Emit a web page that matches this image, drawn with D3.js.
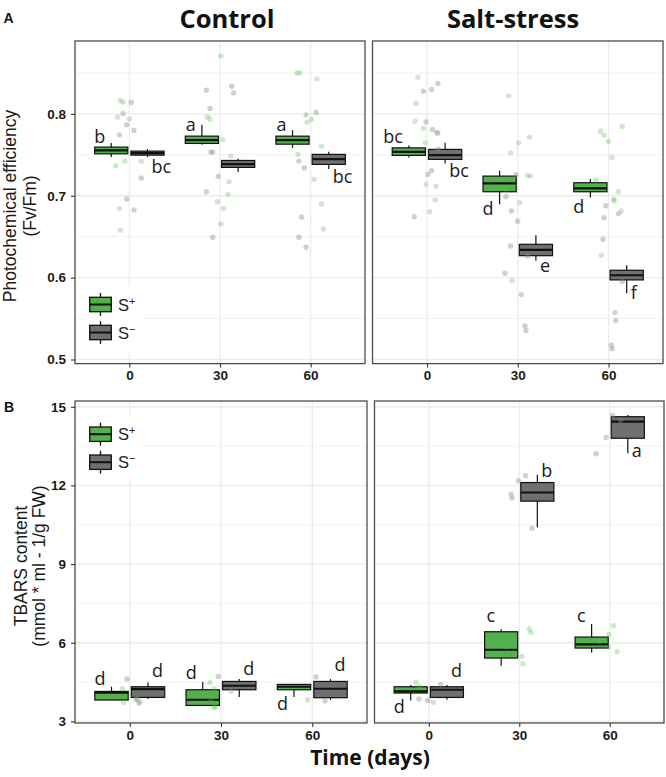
<!DOCTYPE html>
<html>
<head>
<meta charset="utf-8">
<script src="https://cdn.jsdelivr.net/npm/d3@7/dist/d3.min.js"></script>
<style>
  body { margin: 0; background: #fff; }
  svg { display: block; }
</style>
</head>
<body>
<svg id="chart" width="666" height="777"></svg>
<script>
// ---------------- DATA ----------------
const days = [0, 30, 60];
const groups = ["S+", "S-"];
const legendLabels = [["S", "+"], ["S", "−"]];
const panelTitles = ["Control", "Salt-stress"];
const fvTicks = [0.5, 0.6, 0.7, 0.8];
const fvMinorTicks = [0.55, 0.65, 0.75, 0.85];
const tbarsTicks = [3, 6, 9, 12, 15];
const tbarsMinorTicks = [4.5, 7.5, 10.5, 13.5];

// box stats: [day, group, lower whisker, q1, median, q3, upper whisker]
const fvControlBoxes = [
  [0, "S+", 0.7472, 0.7512, 0.7554, 0.7594, 0.7643],
  [0, "S-", 0.7472, 0.7496, 0.7520, 0.7545, 0.7570],
  [30, "S+", 0.7624, 0.7639, 0.7679, 0.7728, 0.7866],
  [30, "S-", 0.7289, 0.7346, 0.7387, 0.7431, 0.7451],
  [60, "S+", 0.7585, 0.7630, 0.7679, 0.7728, 0.7801],
  [60, "S-", 0.7326, 0.7383, 0.7448, 0.7505, 0.7537]
];
const fvSaltBoxes = [
  [0, "S+", 0.7468, 0.7493, 0.7537, 0.7585, 0.7615],
  [0, "S-", 0.7395, 0.7444, 0.7496, 0.7566, 0.7646],
  [30, "S+", 0.6895, 0.7049, 0.7151, 0.7240, 0.7305],
  [30, "S-", 0.6207, 0.6268, 0.6338, 0.6407, 0.6517],
  [60, "S+", 0.6980, 0.7049, 0.7090, 0.7159, 0.7204],
  [60, "S-", 0.5810, 0.5972, 0.6029, 0.6090, 0.6151]
];
const tbarsControlBoxes = [
  [0, "S+", 3.816, 3.816, 4.094, 4.144, 4.323],
  [0, "S-", 3.854, 3.915, 4.235, 4.323, 4.487],
  [30, "S+", 3.610, 3.610, 3.827, 4.208, 4.502],
  [30, "S-", 3.930, 4.208, 4.361, 4.525, 4.616],
  [60, "S+", 3.930, 4.208, 4.323, 4.411, 4.411],
  [60, "S-", 3.827, 3.904, 4.247, 4.525, 4.616]
];
const tbarsSaltBoxes = [
  [0, "S+", 3.800, 4.083, 4.144, 4.323, 4.388],
  [0, "S-", 3.827, 3.915, 4.208, 4.323, 4.388],
  [30, "S+", 5.124, 5.417, 5.734, 6.420, 6.520],
  [30, "S-", 10.41, 11.40, 11.73, 12.11, 12.41],
  [60, "S+", 5.631, 5.798, 5.936, 6.218, 6.713],
  [60, "S-", 13.23, 13.80, 14.43, 14.62, 14.69]
];

// raw observations: [day, group, jitter (fraction of category step), value]
const fvControlPoints = [
  [0,"S+",-0.10,0.8163],[0,"S+",-0.07,0.8143],[0,"S+",-0.13,0.7960],[0,"S+",0.00,0.7939],
  [0,"S+",-0.15,0.7366],[0,"S+",-0.05,0.7423],[0,"S+",0.13,0.7420],[0,"S+",-0.11,0.6846],[0,"S+",-0.10,0.6580],
  [0,"S-",0.02,0.8139],[0,"S-",-0.07,0.8005],[0,"S-",-0.03,0.7866],[0,"S-",-0.11,0.7744],
  [0,"S-",0.05,0.7798],[0,"S-",0.13,0.7216],[0,"S-",-0.03,0.6960],[0,"S-",0.05,0.6826],
  [30,"S+",0.01,0.8707],[30,"S+",-0.14,0.7963],[30,"S+",-0.11,0.7935],[30,"S+",0.03,0.7688],
  [30,"S+",0.12,0.7484],[30,"S+",0.10,0.7170],[30,"S+",0.09,0.7017],[30,"S+",-0.03,0.6927],
  [30,"S+",0.04,0.6846],[30,"S+",0.01,0.6655],
  [30,"S-",-0.15,0.8289],[30,"S-",0.13,0.8338],[30,"S-",0.15,0.8256],[30,"S-",-0.11,0.8066],
  [30,"S-",-0.10,0.7533],[30,"S-",-0.08,0.7533],[30,"S-",-0.02,0.7237],[30,"S-",-0.15,0.7049],[30,"S-",-0.08,0.6493],
  [60,"S+",-0.15,0.8500],[60,"S+",-0.12,0.8500],[60,"S+",0.07,0.8427],[60,"S+",0.01,0.7932],
  [60,"S+",-0.04,0.7899],[60,"S+",0.12,0.7606],[60,"S+",-0.14,0.7505],[60,"S+",0.04,0.7200],
  [60,"S+",0.12,0.6899],[60,"S+",0.14,0.6594],
  [60,"S-",0.06,0.8017],[60,"S-",-0.05,0.7988],[60,"S-",-0.13,0.7423],[60,"S-",-0.07,0.7338],
  [60,"S-",-0.10,0.6737],[60,"S-",-0.13,0.6493],[60,"S-",-0.05,0.6371]
];
const fvSaltPoints = [
  [0,"S+",-0.10,0.8448],[0,"S+",-0.12,0.8127],[0,"S+",-0.13,0.7911],[0,"S+",-0.04,0.7822],
  [0,"S+",0.12,0.7761],[0,"S+",-0.02,0.7646],[0,"S+",-0.01,0.7139],[0,"S+",0.10,0.7118],
  [0,"S+",0.09,0.6948],[0,"S+",0.03,0.6805],
  [0,"S-",-0.04,0.8277],[0,"S-",0.05,0.8298],[0,"S-",0.12,0.8371],[0,"S-",-0.01,0.7902],
  [0,"S-",0.06,0.7810],[0,"S-",0.11,0.7773],[0,"S-",0.12,0.7569],[0,"S-",0.05,0.7305],
  [0,"S-",0.01,0.7261],[0,"S-",-0.14,0.6744],
  [30,"S+",-0.10,0.8220],[30,"S+",0.13,0.7716],[30,"S+",0.01,0.7646],[30,"S+",-0.08,0.7524],
  [30,"S+",0.11,0.7249],[30,"S+",0.14,0.7240],[30,"S+",-0.13,0.7082],[30,"S+",0.02,0.6915],[30,"S+",-0.06,0.5963],
  [30,"S-",-0.02,0.7256],[30,"S-",-0.13,0.6988],[30,"S-",-0.07,0.6813],[30,"S-",0.00,0.6688],
  [30,"S-",-0.08,0.6387],[30,"S-",0.11,0.6265],[30,"S-",-0.14,0.6054],[30,"S-",0.04,0.5793],
  [30,"S-",0.08,0.5411],[30,"S-",0.09,0.5354],
  [60,"S+",-0.09,0.7789],[60,"S+",-0.05,0.7740],[60,"S+",0.15,0.7846],[60,"S+",0.00,0.7663],
  [60,"S+",0.04,0.7468],[60,"S+",-0.14,0.7191],[60,"S+",0.11,0.7049],[60,"S+",0.06,0.6956],
  [60,"S+",0.06,0.6939],[60,"S+",0.14,0.6813],[60,"S+",-0.08,0.6273],
  [60,"S-",-0.03,0.6878],[60,"S-",0.11,0.6780],[60,"S-",-0.05,0.6732],[60,"S-",-0.06,0.6468],
  [60,"S-",0.15,0.5951],[60,"S-",0.07,0.5573],[60,"S-",0.08,0.5476],[60,"S-",0.03,0.5176],[60,"S-",0.04,0.5131]
];
const tbarsControlPoints = [
  [0,"S+",-0.08,4.247],[0,"S+",-0.07,3.724],[0,"S+",0.08,3.877],[0,"S+",0.11,3.751],
  [0,"S-",-0.03,4.616],[0,"S-",0.07,3.839],[0,"S-",0.10,3.700],
  [30,"S+",-0.12,4.487],[30,"S+",-0.08,4.235],[30,"S+",-0.06,3.549],[30,"S+",-0.08,3.549],
  [30,"S+",-0.11,3.865],[30,"S+",0.11,4.144],
  [30,"S-",-0.03,4.716],
  [60,"S+",-0.05,3.827],
  [60,"S-",0.04,4.693],[60,"S-",0.14,3.789]
];
const tbarsSaltPoints = [
  [0,"S+",-0.14,4.487],[0,"S+",-0.10,4.334],[0,"S+",0.05,3.724],
  [0,"S-",-0.11,3.854],[0,"S-",-0.01,3.800],[0,"S-",0.13,4.411],
  [30,"S+",0.11,6.522],[30,"S+",0.13,6.393],[30,"S+",0.03,5.478],[30,"S+",0.04,5.200],[30,"S+",-0.14,5.836],
  [30,"S-",0.07,12.37],[30,"S-",-0.01,12.18],[30,"S-",-0.09,11.67],[30,"S-",-0.08,11.52],[30,"S-",0.14,10.37],
  [60,"S+",0.04,6.649],[60,"S+",-0.01,6.317],[60,"S+",-0.01,5.836],[60,"S+",0.08,5.657],[60,"S+",-0.12,6.050],
  [60,"S-",0.03,14.67],[60,"S-",0.12,14.48],[60,"S-",-0.04,13.83],[60,"S-",-0.15,13.21]
];

// significance letters: [day, group, letter, value at baseline, side]
const fvControlLetters = [
  [0,"S+","b",0.7643,"L"],[0,"S-","bc",0.7277,"R"],[30,"S+","a",0.7789,"L"],
  [60,"S+","a",0.7789,"L"],[60,"S-","bc",0.7155,"R"]
];
const fvSaltLetters = [
  [0,"S+","bc",0.7639,"L"],[0,"S-","bc",0.7224,"R"],[30,"S+","d",0.6765,"L"],
  [30,"S-","e",0.6073,"R"],[60,"S+","d",0.6785,"L"],[60,"S-","f",0.5740,"R"]
];
const tbarsControlLetters = [
  [0,"S+","d",4.372,"L"],[0,"S-","d",4.677,"R"],[30,"S+","d",4.616,"L"],
  [30,"S-","d",4.780,"R"],[60,"S+","d",3.446,"L"],[60,"S-","d",4.906,"R"]
];
const tbarsSaltLetters = [
  [0,"S+","d",3.320,"L"],[0,"S-","d",4.693,"R"],[30,"S+","c",6.790,"L"],
  [30,"S-","b",12.34,"R"],[60,"S+","c",6.810,"L"],[60,"S-","a",13.08,"R"]
];

// ---------------- STYLE ----------------
const fillColor = { "S+": "#53b04d", "S-": "#6f6f6f" };
const pointColor = { "S+": "#5cbf55", "S-": "#8a8a8a" };
const pointOpacity = { "S+": 0.32, "S-": 0.4 };
const gridColor = "#ebebeb";
const titleFont = "'Open Sans', 'DejaVu Sans', sans-serif";
const axisFont = "'Liberation Sans', Arial, sans-serif";

const svg = d3.select("#chart");

function drawPanel(cfg) {
  const g = svg.append("g");
  const x = d3.scalePoint().domain(days).range([cfg.x0, cfg.x1]).padding(0.6);
  const step = x.step();
  const y = d3.scaleLinear().domain(cfg.domain).range([cfg.y1, cfg.y0]);
  const dodge = { "S+": -0.2 * step, "S-": 0.2 * step };
  const bw = 0.366 * step;

  // background + grid
  g.append("rect").attr("x", cfg.x0).attr("y", cfg.y0)
    .attr("width", cfg.x1 - cfg.x0).attr("height", cfg.y1 - cfg.y0).attr("fill", "#fff");
  g.selectAll(".minor").data(cfg.minor).join("line")
    .attr("x1", cfg.x0).attr("x2", cfg.x1).attr("y1", d => y(d)).attr("y2", d => y(d))
    .attr("stroke", "#f2f2f2").attr("stroke-width", 1);
  g.selectAll(".major").data(cfg.ticks).join("line")
    .attr("x1", cfg.x0).attr("x2", cfg.x1).attr("y1", d => y(d)).attr("y2", d => y(d))
    .attr("stroke", gridColor).attr("stroke-width", 1.3);
  g.selectAll(".vgrid").data(days).join("line")
    .attr("x1", d => x(d)).attr("x2", d => x(d)).attr("y1", cfg.y0).attr("y2", cfg.y1)
    .attr("stroke", gridColor).attr("stroke-width", 1.3);

  // legend
  if (cfg.legend) {
    const lg = g.append("g");
    const ky = cfg.legendY;
    lg.append("rect").attr("x", 85).attr("y", ky - 18).attr("width", 58).attr("height", 64).attr("fill", "#fff");
    groups.forEach((grp, i) => {
      const cy = ky + i * 28, cx = 100.5;
      lg.append("line").attr("x1", cx).attr("x2", cx).attr("y1", cy - 11.5).attr("y2", cy + 11.5)
        .attr("stroke", "#111").attr("stroke-width", 1.3);
      lg.append("rect").attr("x", cx - 10.8).attr("y", cy - 7.2).attr("width", 21.6).attr("height", 14.4)
        .attr("fill", fillColor[grp]).attr("stroke", "#111").attr("stroke-width", 1.3);
      lg.append("line").attr("x1", cx - 10.8).attr("x2", cx + 10.8).attr("y1", cy).attr("y2", cy)
        .attr("stroke", "#111").attr("stroke-width", 2);
      const t = lg.append("text").attr("x", 118).attr("y", cy + 6)
        .attr("font-family", axisFont).attr("font-size", 16.5).attr("fill", "#222");
      t.append("tspan").text(legendLabels[i][0]);
      t.append("tspan").attr("font-size", 11).attr("dy", -6).text(legendLabels[i][1]);
    });
  }

  // boxes
  cfg.boxes.forEach(b => {
    const [day, grp, lo, q1, med, q3, hi] = b;
    const cx = x(day) + dodge[grp];
    g.append("line").attr("x1", cx).attr("x2", cx).attr("y1", y(hi)).attr("y2", y(lo))
      .attr("stroke", "#111").attr("stroke-width", 1.2);
    g.append("rect").attr("x", cx - bw / 2).attr("y", y(q3)).attr("width", bw)
      .attr("height", Math.max(y(q1) - y(q3), 0.5))
      .attr("fill", fillColor[grp]).attr("stroke", "#111").attr("stroke-width", 1.2);
    g.append("line").attr("x1", cx - bw / 2).attr("x2", cx + bw / 2).attr("y1", y(med)).attr("y2", y(med))
      .attr("stroke", "#111").attr("stroke-width", 2.2);
  });

  // points
  g.selectAll(".pt").data(cfg.points).join("circle")
    .attr("cx", d => x(d[0]) + d[2] * step)
    .attr("cy", d => y(d[3]))
    .attr("r", 2.7)
    .attr("fill", d => pointColor[d[1]])
    .attr("fill-opacity", d => pointOpacity[d[1]]);

  // letters
  cfg.letters.forEach(l => {
    const [day, grp, txt, val, side] = l;
    const cx = x(day) + dodge[grp];
    g.append("text")
      .attr("x", side === "L" ? cx - 6 : cx + 4)
      .attr("y", y(val))
      .attr("text-anchor", side === "L" ? "end" : "start")
      .attr("font-family", titleFont).attr("font-size", 18).attr("fill", "#1a1a1a")
      .text(txt);
  });

  // border
  g.append("rect").attr("x", cfg.x0).attr("y", cfg.y0)
    .attr("width", cfg.x1 - cfg.x0).attr("height", cfg.y1 - cfg.y0)
    .attr("fill", "none").attr("stroke", "#4d4d4d").attr("stroke-width", 1.3);

  // x axis
  const xa = g.append("g").attr("transform", `translate(0,${cfg.y1})`)
    .call(d3.axisBottom(x).tickSize(4).tickPadding(3));
  xa.select(".domain").remove();
  xa.selectAll("line").attr("stroke", "#333").attr("stroke-width", 1.1);
  xa.selectAll("text").attr("font-family", axisFont).attr("font-weight", "bold")
    .attr("font-size", 13.5).attr("fill", "#1a1a1a");

  // y axis (left panels)
  if (cfg.yAxis) {
    const ya = g.append("g").attr("transform", `translate(${cfg.x0},0)`)
      .call(d3.axisLeft(y).tickValues(cfg.ticks).tickFormat(cfg.fmt).tickSize(4).tickPadding(5));
    ya.select(".domain").remove();
    ya.selectAll("line").attr("stroke", "#333").attr("stroke-width", 1.1);
    ya.selectAll("text").attr("font-family", axisFont).attr("font-weight", "bold")
      .attr("font-size", 13.5).attr("fill", "#1a1a1a");
  }
}

const topY = [41, 363.6], botY = [401, 723];
drawPanel({ x0: 75, x1: 365, y0: topY[0], y1: topY[1], domain: [0.495, 0.889],
  ticks: fvTicks, minor: fvMinorTicks, fmt: d3.format(".1f"),
  boxes: fvControlBoxes, points: fvControlPoints, letters: fvControlLetters,
  yAxis: true, legend: true, legendY: 304.5 });
drawPanel({ x0: 372.5, x1: 663, y0: topY[0], y1: topY[1], domain: [0.495, 0.889],
  ticks: fvTicks, minor: fvMinorTicks, fmt: d3.format(".1f"),
  boxes: fvSaltBoxes, points: fvSaltPoints, letters: fvSaltLetters, yAxis: false });
drawPanel({ x0: 75, x1: 367, y0: botY[0], y1: botY[1], domain: [2.94, 15.22],
  ticks: tbarsTicks, minor: tbarsMinorTicks, fmt: d3.format("d"),
  boxes: tbarsControlBoxes, points: tbarsControlPoints, letters: tbarsControlLetters,
  yAxis: true, legend: true, legendY: 434.2 });
drawPanel({ x0: 374.5, x1: 664, y0: botY[0], y1: botY[1], domain: [2.94, 15.22],
  ticks: tbarsTicks, minor: tbarsMinorTicks, fmt: d3.format("d"),
  boxes: tbarsSaltBoxes, points: tbarsSaltPoints, letters: tbarsSaltLetters, yAxis: false });

// titles
svg.append("text").attr("x", 227).attr("y", 28).attr("text-anchor", "middle")
  .attr("font-family", titleFont).attr("font-weight", "bold").attr("font-size", 25.5).attr("fill", "#111")
  .text(panelTitles[0]);
svg.append("text").attr("x", 513).attr("y", 28).attr("text-anchor", "middle")
  .attr("font-family", titleFont).attr("font-weight", "bold").attr("font-size", 25.5).attr("fill", "#111")
  .text(panelTitles[1]);

// panel tags
svg.append("text").attr("x", 3.5).attr("y", 23.3).attr("font-family", axisFont).attr("font-weight", "bold")
  .attr("font-size", 14).attr("fill", "#111").text("A");
svg.append("text").attr("x", 4).attr("y", 411.7).attr("font-family", axisFont).attr("font-weight", "bold")
  .attr("font-size", 14).attr("fill", "#111").text("B");

// y axis titles
function yTitle(lines, cy, xs) {
  lines.forEach((t, i) => {
    svg.append("text").attr("transform", `translate(${xs[i]},${cy}) rotate(-90)`)
      .attr("text-anchor", "middle").attr("font-family", axisFont).attr("font-size", 17.5)
      .attr("fill", "#1a1a1a").text(t);
  });
}
yTitle(["Photochemical efficiency", "(Fv/Fm)"], 206, [15.5, 36]);
yTitle(["TBARS content", "(mmol * ml - 1/g FW)"], 566, [26.5, 45]);

// x axis title
svg.append("text").attr("x", 370).attr("y", 765).attr("text-anchor", "middle")
  .attr("font-family", titleFont).attr("font-weight", "bold").attr("font-size", 21).attr("fill", "#111")
  .text("Time (days)");
</script>
</body>
</html>
